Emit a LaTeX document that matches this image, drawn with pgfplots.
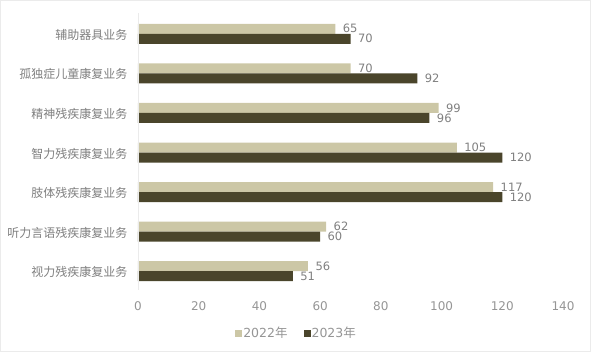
\documentclass[border=0pt]{standalone}
\usepackage{pgfplots}
\pgfplotsset{compat=1.18}
\usepackage{fontspec}
\setmainfont{DejaVu Sans}
\newfontfamily\cjk{Noto Sans CJK SC}
\definecolor{c22}{HTML}{CCC7A6}
\definecolor{c23}{HTML}{4A452B}
\definecolor{tickc}{HTML}{959595}
\definecolor{labc}{HTML}{7F7F7F}
\begin{document}
\begin{tikzpicture}
\useasboundingbox (-138bp,-62bp) rectangle (453bp,290bp);
\draw[black!8] (-137.5bp,-61.5bp) rectangle (452.5bp,289.5bp);
\begin{axis}[
  at={(0,0)}, anchor=south west,
  scale only axis, width=425bp, height=277bp,
  xbar, bar width=10bp,
  xmin=0, xmax=140, ymin=-0.5, ymax=6.5,
  xtick={0,20,...,140},
  ytick={0,...,6},
  yticklabels={视力残疾康复业务,听力言语残疾康复业务,肢体残疾康复业务,智力残疾康复业务,精神残疾康复业务,孤独症儿童康复业务,辅助器具业务},
  yticklabel style={font=\cjk\fontsize{12bp}{14bp}\selectfont, text=labc, xshift=-7bp, yshift=-2bp},
  xticklabel style={font=\fontsize{12bp}{14bp}\selectfont, text=tickc, yshift=-8bp},
  /pgf/number format/assume math mode=true,
  axis line style={draw=none},
  tick style={draw=none},
  major tick length=0pt,
  nodes near coords,
  every node near coord/.append style={font=\fontsize{11.5bp}{13bp}\selectfont, text=labc, xshift=4bp, inner ysep=0pt},
  legend style={at={(0.372,-0.1552)}, anchor=center, draw=none, fill=none,
    font=\fontsize{12.5bp}{14bp}\selectfont, text=tickc, legend columns=2,
    nodes={inner sep=1bp},
    /tikz/every even column/.append style={column sep=15bp}},
  legend image code/.code={\fill[#1, draw=none] (0bp,-4bp) rectangle (7bp,3bp);},
]
\addplot[fill=c22, draw=none, bar shift=4bp] coordinates {(56,0) (62,1) (117,2) (105,3) (99,4) (70,5) (65,6)};
\addplot[fill=c23, draw=none, bar shift=-6bp] coordinates {(51,0) (60,1) (120,2) (120,3) (96,4) (92,5) (70,6)};
\legend{2022{\cjk 年}, 2023{\cjk 年}}
\draw[black!8] (axis cs:0,-0.5) -- (axis cs:0,6.5);
\end{axis}
\end{tikzpicture}
\end{document}
